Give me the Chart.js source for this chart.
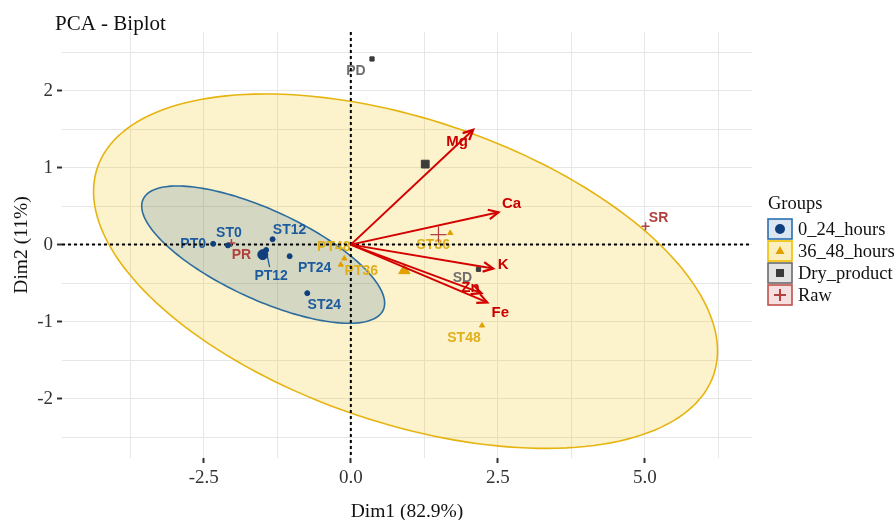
<!DOCTYPE html>
<html>
<head>
<meta charset="utf-8">
<script src="https://cdn.jsdelivr.net/npm/chart.js@4.4.1/dist/chart.umd.min.js"></script>
<style>
  html, body { margin: 0; padding: 0; background: #fff; }
  canvas { display: block; }
</style>
</head>
<body>
<canvas id="biplot" width="896" height="520"></canvas>
<script>
// individuals (samples)
const obsNames  = ["PT0", "ST0", "ST12", "PT12", "PT24", "ST24", "PT36", "PT48", "ST36", "ST48", "PD", "SD", "PR", "SR"];
const obsGroups = ["0_24_hours", "0_24_hours", "0_24_hours", "0_24_hours", "0_24_hours", "0_24_hours",
                   "36_48_hours", "36_48_hours", "36_48_hours", "36_48_hours",
                   "Dry_product", "Dry_product", "Raw", "Raw"];
const obsDim1 = [-2.34, -2.09, -1.33, -1.44, -1.04, -0.74, -0.11, -0.17, 1.69, 2.23, 0.36, 2.17, -2.03, 5.01];
const obsDim2 = [0.01, -0.01, 0.07, -0.07, -0.15, -0.63, -0.18, -0.26, 0.15, -1.05, 2.41, -0.32, 0.02, 0.24];

// variables (arrows)
const varNames = ["Mg", "Ca", "K", "Zn", "Fe"];
const varDim1 = [2.08, 2.51, 2.42, 2.22, 2.32];
const varDim2 = [1.49, 0.42, -0.31, -0.63, -0.75];

const groupNames = ["0_24_hours", "36_48_hours", "Dry_product", "Raw"];

// ellipses: centre, half major axis, half minor axis (Dim1, Dim2)
const ellipseGroups = ["36_48_hours", "0_24_hours"];
const ellipseCenter = [[0.93, -0.345], [-1.49, -0.13]];
const ellipseMajor  = [[5.24, -1.34], [2.04, -0.72]];
const ellipseMinor  = [[-0.82, -1.87], [-0.32, -0.525]];

// axis ticks
const xMajorTicks = [-2.5, 0, 2.5, 5];
const xMinorTicks = [-3.75, -1.25, 1.25, 3.75, 6.25];
const yMajorTicks = [-2, -1, 0, 1, 2];
const yMinorTicks = [-2.5, -1.5, -0.5, 0.5, 1.5, 2.5];

// styling
const groupStyle = {
  "0_24_hours":  { point: "#0f3f7d", text: "#1d5b9e", shape: "circle",   r: 2.5, meanR: 5,   line: "#2d6d9e", fill: "rgba(50,110,150,0.2)", key: "#dbe6f2", keyLine: "#2a6fb0" },
  "36_48_hours": { point: "#e0a100", text: "#e0b01c", shape: "triangle", r: 3,   meanR: 6.5, line: "#e6b410", fill: "rgba(239,192,0,0.2)",  key: "#fbefbf", keyLine: "#efbf00" },
  "Dry_product": { point: "#3c3c3c", text: "#6e6e6e", shape: "rect",     r: 3,   meanR: 5.5, key: "#e4e4e4", keyLine: "#6a6a6a" },
  "Raw":         { point: "#b0413e", text: "#b0413e", shape: "cross",    r: 4,   meanR: 8,   key: "#f5e0df", keyLine: "#c0504d" }
};
const arrowColor = "#d40000";

// label nudges in pixels [dx, dy, draw segment]
const labelNudge = {
  PT0: [-20, 0], ST0: [1, -12], ST12: [17, -9], PT12: [5, 26, true], PT24: [25, 12], ST24: [17, 12],
  PT36: [17, 13], PT48: [-7, -18], ST36: [-17, 12], ST48: [-18, 13],
  PD: [-16, 12], SD: [-16, 9], PR: [10, 12], SR: [13, -8]
};
const varNudge = { Mg: [-16, 12], Ca: [13, -8], K: [10, -4], Zn: [-11, -5], Fe: [13, 10] };

const serif = '"Liberation Serif", "Times New Roman", serif';
const sans = '"Liberation Sans", Arial, sans-serif';

// build datasets
const datasets = [];
groupNames.forEach(g => {
  const st = groupStyle[g];
  const idx = obsNames.map((n, i) => i).filter(i => obsGroups[i] === g);
  datasets.push({
    label: g,
    data: idx.map(i => ({ x: obsDim1[i], y: obsDim2[i] })),
    pointStyle: st.shape, pointRadius: st.r,
    backgroundColor: st.point, borderColor: st.point,
    borderWidth: st.shape === "cross" ? 1.5 : 1,
    showLine: false, order: 3
  });
  // group mean point
  const mx = idx.reduce((s, i) => s + obsDim1[i], 0) / idx.length;
  const my = idx.reduce((s, i) => s + obsDim2[i], 0) / idx.length;
  datasets.push({
    label: g + " mean",
    data: [{ x: mx, y: my }],
    pointStyle: st.shape, pointRadius: st.meanR,
    backgroundColor: st.point, borderColor: st.point,
    borderWidth: st.shape === "cross" ? 1.2 : 1,
    showLine: false, order: 2
  });
});
varNames.forEach((v, i) => {
  datasets.push({
    type: "line",
    label: v,
    data: [{ x: 0, y: 0 }, { x: varDim1[i], y: varDim2[i] }],
    borderColor: arrowColor, borderWidth: 2,
    pointRadius: 0, fill: false, tension: 0, order: 1
  });
});

function drawSymbol(ctx, shape, x, y, r, color) {
  ctx.save();
  ctx.fillStyle = color;
  ctx.strokeStyle = color;
  ctx.beginPath();
  if (shape === "circle") {
    ctx.arc(x, y, r, 0, Math.PI * 2);
    ctx.fill();
  } else if (shape === "triangle") {
    ctx.moveTo(x, y - r);
    ctx.lineTo(x + r * 0.9, y + r * 0.6);
    ctx.lineTo(x - r * 0.9, y + r * 0.6);
    ctx.closePath();
    ctx.fill();
  } else if (shape === "rect") {
    ctx.rect(x - r * 0.8, y - r * 0.8, r * 1.6, r * 1.6);
    ctx.fill();
  } else {
    ctx.lineWidth = 2;
    ctx.moveTo(x - r, y); ctx.lineTo(x + r, y);
    ctx.moveTo(x, y - r); ctx.lineTo(x, y + r);
    ctx.stroke();
  }
  ctx.restore();
}

const biplotLayers = {
  id: "biplotLayers",
  beforeDatasetsDraw(chart) {
    const { ctx, chartArea: a, scales: { x, y } } = chart;
    ctx.save();
    // concentration ellipses
    ellipseGroups.forEach((g, k) => {
      const st = groupStyle[g];
      ctx.beginPath();
      for (let t = 0; t <= 360; t += 2) {
        const r = t * Math.PI / 180;
        const dx = ellipseCenter[k][0] + ellipseMajor[k][0] * Math.cos(r) + ellipseMinor[k][0] * Math.sin(r);
        const dy = ellipseCenter[k][1] + ellipseMajor[k][1] * Math.cos(r) + ellipseMinor[k][1] * Math.sin(r);
        const px = x.getPixelForValue(dx), py = y.getPixelForValue(dy);
        if (t === 0) ctx.moveTo(px, py); else ctx.lineTo(px, py);
      }
      ctx.closePath();
      ctx.fillStyle = st.fill;
      ctx.fill();
      ctx.lineWidth = 1.6;
      ctx.strokeStyle = st.line;
      ctx.stroke();
    });

    // sample labels
    ctx.font = "bold 14px " + sans;
    ctx.textAlign = "center";
    ctx.textBaseline = "middle";
    obsNames.forEach((n, i) => {
      const st = groupStyle[obsGroups[i]];
      const px = x.getPixelForValue(obsDim1[i]), py = y.getPixelForValue(obsDim2[i]);
      const nd = labelNudge[n];
      if (nd[2]) {
        ctx.beginPath();
        ctx.strokeStyle = st.text;
        ctx.lineWidth = 1.3;
        ctx.moveTo(px, py);
        ctx.lineTo(px + nd[0] * 0.7, py + nd[1] - 9);
        ctx.stroke();
      }
      ctx.fillStyle = st.text;
      ctx.fillText(n, px + nd[0], py + nd[1]);
    });

    // dashed zero lines
    ctx.setLineDash([3, 3]);
    ctx.lineWidth = 2;
    ctx.strokeStyle = "#000";
    const x0 = x.getPixelForValue(0), y0 = y.getPixelForValue(0);
    ctx.beginPath();
    ctx.moveTo(x0, a.top); ctx.lineTo(x0, a.bottom);
    ctx.moveTo(a.left, y0); ctx.lineTo(a.right, y0);
    ctx.stroke();
    ctx.restore();
  },
  afterDatasetsDraw(chart) {
    const { ctx, scales: { x, y } } = chart;
    ctx.save();
    const x0 = x.getPixelForValue(0), y0 = y.getPixelForValue(0);
    varNames.forEach((v, i) => {
      const tx = x.getPixelForValue(varDim1[i]), ty = y.getPixelForValue(varDim2[i]);
      const ang = Math.atan2(ty - y0, tx - x0);
      const len = 11, spread = 0.45;
      ctx.beginPath();
      ctx.strokeStyle = arrowColor;
      ctx.lineWidth = 2.2;
      ctx.moveTo(tx - len * Math.cos(ang - spread), ty - len * Math.sin(ang - spread));
      ctx.lineTo(tx, ty);
      ctx.lineTo(tx - len * Math.cos(ang + spread), ty - len * Math.sin(ang + spread));
      ctx.stroke();
      ctx.font = "bold 15px " + sans;
      ctx.textAlign = "center";
      ctx.textBaseline = "middle";
      ctx.fillStyle = "#cc0000";
      ctx.fillText(v, tx + varNudge[v][0], ty + varNudge[v][1]);
    });
    ctx.restore();
  },
  afterDraw(chart) {
    const { ctx } = chart;
    ctx.save();
    ctx.fillStyle = "#111";
    ctx.textBaseline = "middle";
    ctx.textAlign = "left";
    ctx.font = "21px " + serif;
    ctx.fillText("PCA - Biplot", 55, 24);

    // legend
    ctx.font = "18.5px " + serif;
    ctx.fillText("Groups", 768, 204);
    groupNames.forEach((g, i) => {
      const st = groupStyle[g];
      const cy = 229 + i * 22;
      ctx.fillStyle = st.key;
      ctx.fillRect(768, cy - 10, 24, 20);
      ctx.strokeStyle = st.keyLine;
      ctx.lineWidth = 1.6;
      ctx.strokeRect(768, cy - 10, 24, 20);
      drawSymbol(ctx, st.shape, 780, cy, st.shape === "cross" ? 6 : 5, st.point);
      ctx.fillStyle = "#111";
      ctx.fillText(g, 798, cy + 1);
    });
    ctx.restore();
  }
};

const tickFont = { family: serif, size: 19 };
const titleFont = { family: serif, size: 19.5, lineHeight: 1 };

new Chart(document.getElementById("biplot").getContext("2d"), {
  type: "scatter",
  data: { datasets: datasets },
  options: {
    responsive: false,
    devicePixelRatio: 1,
    animation: false,
    layout: { padding: { left: 0, top: 32, right: 144, bottom: 0 } },
    plugins: {
      legend: { display: false },
      tooltip: { enabled: false },
      title: { display: false }
    },
    scales: {
      x: {
        type: "linear",
        min: -4.91,
        max: 6.82,
        afterBuildTicks: s => {
          s.ticks = xMinorTicks.concat(xMajorTicks).sort((a, b) => a - b).map(v => ({ value: v }));
        },
        afterFit: s => { s.height = 62; },
        ticks: {
          autoSkip: false, maxRotation: 0, padding: 4, color: "#333", font: tickFont,
          callback: v => xMajorTicks.includes(v) ? v.toFixed(1) : ""
        },
        grid: {
          color: "#e6e6e6", lineWidth: 1, tickLength: 5, tickWidth: 2,
          tickColor: c => xMajorTicks.includes(c.tick.value) ? "#333" : "rgba(0,0,0,0)"
        },
        border: { display: false },
        title: { display: true, text: "Dim1 (82.9%)", color: "#111", font: titleFont, padding: { top: 0, bottom: -2 } }
      },
      y: {
        type: "linear",
        min: -2.77,
        max: 2.76,
        afterBuildTicks: s => {
          s.ticks = yMinorTicks.concat(yMajorTicks).sort((a, b) => a - b).map(v => ({ value: v }));
        },
        afterFit: s => { s.width = 62; },
        ticks: {
          autoSkip: false, padding: 4, color: "#333", font: tickFont,
          callback: v => yMajorTicks.includes(v) ? String(v) : ""
        },
        grid: {
          color: "#e6e6e6", lineWidth: 1, tickLength: 5, tickWidth: 2,
          tickColor: c => yMajorTicks.includes(c.tick.value) ? "#333" : "rgba(0,0,0,0)"
        },
        border: { display: false },
        title: { display: true, text: "Dim2 (11%)", color: "#111", font: titleFont, padding: { top: 12, bottom: 0 } }
      }
    }
  },
  plugins: [biplotLayers]
});
</script>
</body>
</html>
